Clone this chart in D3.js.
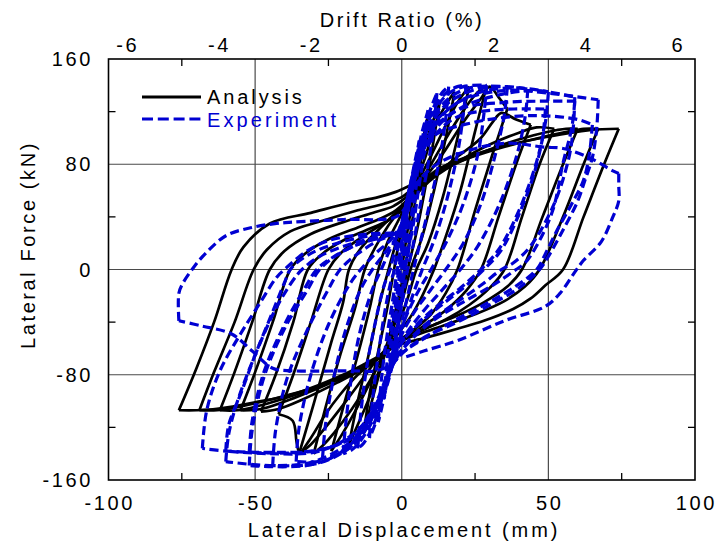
<!DOCTYPE html>
<html>
<head>
<meta charset="utf-8">
<script src="https://cdn.jsdelivr.net/npm/d3@7"></script>
<style>
  html, body { margin: 0; padding: 0; background: #fff; }
  svg text { font-family: "Liberation Sans", Arial, sans-serif; }
</style>
</head>
<body>
<svg id="chart" width="717" height="547"></svg>
<script>
// Axis ticks
const dispTicks = [-100, -50, 0, 50, 100];
const dispMinor = [-75, -25, 25, 75];
const forceTicks = [-160, -80, 0, 80, 160];
const forceMinor = [-120, -40, 40, 120];
const driftTicks = [-6, -4, -2, 0, 2, 4, 6];
const gridDisp = [-50, 0, 50];
const gridForce = [-80, 0, 80];
const mmPerPercent = 15.65;

// Analysis: hysteresis branches [displacement mm, force kN], peak to peak
const analysisBranches = [
  [[0,0],[2,30],[4,58],[6,85],[8,107],[9,118]],
  [[9,118],[7,90],[5,58],[3,28],[1,0],[-2,-30],[-5,-58],[-8,-82],[-11,-107],[-13,-125]],
  [[-13,-125],[-11,-95],[-8,-62],[-5,-30],[-3,-5],[-1,20],[2,45],[5,70],[8,95],[11,115],[13,128]],
  [[13,128],[11,100],[8,62],[5,28],[2,0],[-1,-28],[-4,-52],[-7,-72],[-11,-97],[-15,-118],[-18,-133]],
  [[-18,-133],[-15,-100],[-11,-62],[-8,-30],[-5,-4],[-2,20],[1,42],[4,62],[8,85],[11,108],[15,125],[18,135]],
  [[18,135],[15,100],[11,60],[7,25],[3,0],[0,-25],[-3,-45],[-6,-62],[-10,-82],[-15,-104],[-20,-124],[-24,-138]],
  [[-24,-138],[-20,-105],[-15,-65],[-11,-30],[-8,0],[-5,20],[-1,38],[2,52],[5,65],[9,82],[14,105],[19,127],[23,139]],
  [[23,139],[19,100],[14,55],[9,20],[5,0],[2,-22],[-1,-40],[-4,-55],[-7,-68],[-11,-85],[-17,-106],[-23,-124],[-27,-134],[-30,-140]],
  [[-30,-140],[-26,-105],[-21,-65],[-16,-30],[-12.6,0],[-9,17],[-5,32],[-1,44],[3,56],[6,66],[10,80],[16,103],[22,124],[26,135],[29,140]],
  [[29,140],[25,105],[20,60],[15,25],[11,0],[7,-20],[3,-36],[-1,-48],[-4,-57],[-8,-67],[-13,-82],[-19,-100],[-26,-120],[-31,-133],[-35,-140]],
  [[-35,-140],[-30,-102],[-24,-55],[-20,-25],[-18,0],[-14,16],[-8,30],[-3,41],[1,50],[4,60],[8,70],[14,88],[21,112],[27,130],[30,139],[33,131],[36,122]],
  [[36,122],[31,88],[25,45],[19,0],[15,-18],[10,-34],[4,-46],[-1,-54],[-5,-61],[-9,-69],[-15,-80],[-21,-95],[-26,-110],[-31,-128],[-34.8,-139],[-35.8,-132],[-37.2,-115],[-42,-110]],
  [[-42,-110],[-37,-80],[-31,-40],[-25,0],[-21,12],[-14,24],[-7,34],[-2,41],[2,50],[6,61],[10,70],[18,84],[27,100],[31,112],[34,119],[39,114],[44,110]],
  [[44,110],[39,80],[33,40],[27,0],[22,-16],[15,-31],[8,-42],[2,-51],[-3,-58],[-7,-66],[-12,-74],[-22,-86],[-34,-99],[-42,-106],[-48,-108]],
  [[-48,-108],[-43,-80],[-37,-40],[-32,0],[-27,12],[-20,22],[-12,30],[-5,37],[-1,43],[3,52],[7,62],[11,70],[20,83],[30,95],[40,104],[46,108],[52,107]],
  [[52,107],[47,80],[41,40],[35,0],[30,-14],[23,-27],[15,-38],[7,-46],[1,-53],[-3,-59],[-7,-66],[-12,-73],[-22,-84],[-36,-97],[-48,-106],[-55,-107]],
  [[-55,-107],[-50,-78],[-44,-40],[-38,0],[-33,12],[-25,23],[-15,32],[-7,39],[-2,45],[2,53],[6,62],[10,70],[20,82],[32,93],[45,102],[53,106],[56,107],[60,107]],
  [[60,107],[55,80],[48,40],[41,0],[36,-13],[28,-25],[19,-35],[10,-43],[3,-50],[-2,-56],[-6,-63],[-10,-70],[-18,-80],[-32,-92],[-46,-102],[-56,-107],[-62,-107]],
  [[-62,-107],[-57,-78],[-51,-40],[-45,0],[-40,14],[-31,27],[-20,36],[-10,43],[-3,48],[1,54],[5,62],[9,70],[15,78],[30,90],[45,99],[57,105],[62,107],[67,107]],
  [[67,107],[62,80],[55,40],[47,0],[42,-13],[35,-24],[25,-34],[15,-42],[6,-49],[-1,-55],[-5,-61],[-9,-68],[-15,-77],[-30,-90],[-45,-99],[-57,-105],[-63,-107],[-69,-107]],
  [[-69,-107],[-64,-78],[-57,-40],[-50.5,0],[-46,15],[-38,29],[-27,37],[-15,45],[-6,50],[0,55],[4,62],[8,69],[13,77],[30,91],[50,101],[64,106],[74,107]],
  [[74,107],[69,80],[62,40],[55,0],[49,-12],[44,-22],[38,-30],[28,-39],[19,-45],[8,-52],[-2,-58],[-7,-65],[-12,-71],[-20,-80],[-36,-94],[-50,-101],[-63,-106],[-70,-107],[-76,-107]],
  [[-76,-107],[-70,-75],[-64,-40],[-58,0],[-54,17],[-45,35],[-31,43],[-19,50],[-8,55],[-2,59],[3,64]]
];

// Experiment: measured hysteresis branches [displacement mm, force kN]
const experimentBranches = [
  [[0,0],[1,20],[2,38]],
  [[2,38],[1.5,20],[0.5,0],[-0.5,-15],[-1.5,-30],[-2,-38]],
  [[-2,-38],[-1.5,-20],[-0.5,0],[0.5,20],[1.5,35],[2.5,50],[3.5,62],[4,68]],
  [[4,68],[3.5,45],[2,20],[0.5,0],[-1,-20],[-2,-40],[-3,-58],[-4,-70]],
  [[-4,-70],[-3.5,-50],[-2,-25],[-0.5,0],[0.5,22],[1.5,45],[3,65],[4.5,82],[6,98]],
  [[6,98],[5,65],[3.5,35],[2,10],[1,0],[-0.5,-25],[-2,-48],[-3.5,-68],[-5,-85],[-6,-98]],
  [[-6,-98],[-5,-70],[-3.5,-40],[-2,-15],[-1,0],[0.5,25],[2,48],[3.5,68],[5,85],[7,105],[9,121]],
  [[9,121],[8,95],[6,65],[4,35],[2,12],[1,0],[0,-22],[-1.5,-45],[-3,-65],[-5,-85],[-6.5,-102],[-8,-116]],
  [[-8,-116],[-7,-85],[-5,-50],[-3,-22],[-1.5,0],[0,22],[1.5,42],[3,60],[5,80],[7,100],[9,117],[12,134]],
  [[12,134],[11,110],[9,80],[6,45],[4,20],[2,0],[0.5,-20],[-1,-40],[-3,-62],[-5,-82],[-7,-100],[-9,-117],[-11,-128]],
  [[-11,-128],[-10,-100],[-8,-65],[-6,-35],[-4,-12],[-2.5,0],[-1,20],[1,40],[3,60],[5,80],[8,105],[11,124],[14,135],[16,139]],
  [[16,139],[15,115],[13,85],[9,45],[6,18],[4,0],[2,-20],[0,-40],[-2,-60],[-4,-80],[-7,-102],[-10,-120],[-13,-132],[-15,-136]],
  [[-15,-136],[-14,-110],[-12,-75],[-9,-40],[-6,-12],[-4,0],[-2,18],[0,35],[2,55],[4,75],[7,100],[11,122],[15,134],[19,139],[22,140]],
  [[22,140],[21,118],[19,88],[15,50],[11,22],[7,0],[4,-18],[1,-38],[-1,-55],[-3,-70],[-6,-92],[-10,-115],[-14,-130],[-17,-137],[-20,-140]],
  [[-20,-140],[-19,-115],[-17,-80],[-14,-45],[-10,-15],[-7,0],[-4,15],[-1,28],[1,45],[3,65],[6,90],[10,115],[15,132],[21,139],[29,140]],
  [[29,140],[28,118],[26,88],[21,50],[15,20],[10,0],[6,-15],[2,-33],[-1,-50],[-3,-65],[-6,-88],[-10,-112],[-15,-130],[-21,-140],[-27,-143]],
  [[-27,-143],[-26,-118],[-23,-80],[-19,-45],[-14,-15],[-10,0],[-6,12],[-2,24],[0,35],[2,55],[5,82],[9,108],[15,128],[23,138],[36,139]],
  [[36,139],[35,118],[32,88],[27,50],[21,20],[15,0],[10,-15],[5,-30],[1,-45],[-2,-60],[-5,-82],[-10,-110],[-17,-132],[-26,-145],[-36,-146]],
  [[-36,-146],[-35,-120],[-31,-80],[-25,-42],[-18,-12],[-14,0],[-9,12],[-4,22],[-1,30],[1,45],[4,72],[8,100],[14,123],[24,136],[36,139],[43,137]],
  [[43,137],[42,115],[39,85],[33,48],[26,18],[20,0],[14,-15],[8,-30],[3,-44],[-1,-58],[-4,-78],[-9,-108],[-16,-132],[-28,-147],[-44,-149]],
  [[-44,-149],[-43,-122],[-39,-82],[-32,-45],[-25,-15],[-21,0],[-15,12],[-8,22],[-2,28],[1,40],[4,68],[8,95],[15,120],[27,135],[40,138],[50,135]],
  [[50,135],[49,112],[46,82],[40,45],[33,15],[27,0],[20,-14],[12,-28],[5,-42],[0,-56],[-4,-75],[-9,-105],[-17,-132],[-30,-148],[-52,-149]],
  [[-52,-149],[-51,-122],[-47,-82],[-40,-45],[-32,-15],[-28,0],[-22,11],[-14,20],[-5,26],[0,30],[2,45],[5,72],[10,98],[18,115],[30,121],[49,122]],
  [[49,122],[48,100],[45,72],[40,42],[34,15],[28,0],[21,-14],[13,-28],[6,-41],[0,-55],[-4,-74],[-9,-102],[-17,-127],[-30,-138],[-52,-139]],
  [[-52,-139],[-51,-115],[-47,-78],[-40,-42],[-33,-14],[-29,0],[-23,10],[-15,19],[-6,25],[0,29],[2,45],[5,75],[10,102],[18,120],[30,131],[45,136],[59,131]],
  [[59,131],[58.5,108],[57,85],[52,50],[44,18],[38,5],[34,0],[27,-12],[18,-26],[9,-40],[2,-55],[-3,-72],[-8,-100],[-16,-128],[-30,-146],[-45,-149],[-60,-146]],
  [[-60,-146],[-59,-125],[-56,-100],[-50,-65],[-43,-30],[-37,-8],[-34,0],[-28,10],[-18,19],[-8,25],[0,29],[2,45],[5,78],[10,105],[20,122],[35,127],[50,128],[59,128]],
  [[59,128],[58,108],[55,81],[51.5,45],[46,18],[42,5],[39,0],[31,-12],[20,-26],[10,-40],[3,-54],[-2,-68],[-7,-95],[-15,-122],[-28,-138],[-45,-140],[-60,-138]],
  [[-60,-138],[-59,-118],[-55,-95],[-50,-65],[-44,-32],[-40,-10],[-38,0],[-32,11],[-22,20],[-10,26],[0,30],[2,48],[5,80],[10,108],[20,128],[35,136],[50,134],[67,129]],
  [[67,129],[66.5,108],[65,85],[62.5,68],[60,52],[55,30],[50,10],[47,0],[40,-14],[30,-27],[19,-40],[9,-50],[2,-60],[-3,-72],[-8,-100],[-15,-125],[-28,-137],[-45,-139],[-60,-138],[-68,-136]],
  [[-68,-136],[-66.5,-107],[-62,-77],[-55,-49],[-48.5,-26],[-42.7,-6],[-40,0],[-33,13],[-25,22],[-12,27],[0,30],[2,45],[5,75],[10,100],[25,112],[45,117],[60,114],[65,110]],
  [[65,110],[64,88],[62,68],[58,50],[53,30],[49,12],[46,0],[38,-14],[28,-27],[17,-40],[8,-52],[1,-62],[-4,-73],[-9,-77],[-16.7,-77],[-37,-77],[-44,-75],[-51,-62],[-58,-49],[-68,-43],[-76,-39]],
  [[-76,-39],[-76,-18],[-74.7,-10.7],[-71,1.5],[-66.6,13],[-59.7,26],[-51,32],[-42.7,35],[-37,36],[-20,38],[-2,40],[2,50],[4,60],[6,68],[12,80],[22,90],[36,96],[48.5,93],[55,92],[64,85],[72,75],[74,73]],
  [[74,73],[74,64],[74,52],[72,40],[68,21],[62,7],[59,-2],[54,-18],[49,-28],[35,-39],[19,-54],[7.5,-62],[0.7,-67]]
];

const legendItems = ["Analysis", "Experiment"];

const BLUE = "#0000d2";
const FONT = 20;

const svg = d3.select("#chart");
const x = d3.scaleLinear().domain([-100, 100]).range([108.5, 695]);
const y = d3.scaleLinear().domain([-160, 160]).range([480, 59]);
const xDrift = d3.scaleLinear().domain([-100 / mmPerPercent, 100 / mmPerPercent]).range(x.range());

const [x0, x1] = x.range();
const [yb, yt] = y.range();

svg.append("defs").append("clipPath").attr("id", "plot-clip")
  .append("rect").attr("x", x0).attr("y", yt).attr("width", x1 - x0).attr("height", yb - yt);

// Grid lines
const grid = svg.append("g").attr("stroke", "#4a4a4a").attr("stroke-width", 1.2);
grid.selectAll("line.gx").data(gridDisp).join("line")
  .attr("x1", d => x(d)).attr("x2", d => x(d)).attr("y1", yt).attr("y2", yb);
grid.selectAll("line.gy").data(gridForce).join("line")
  .attr("y1", d => y(d)).attr("y2", d => y(d)).attr("x1", x0).attr("x2", x1);

// Inward minor ticks on all four sides
const tk = 7;
const ticks = svg.append("g").attr("stroke", "#000").attr("stroke-width", 1.3);
dispMinor.forEach(v => {
  ticks.append("line").attr("x1", x(v)).attr("x2", x(v)).attr("y1", yb).attr("y2", yb - tk);
  ticks.append("line").attr("x1", x(v)).attr("x2", x(v)).attr("y1", yt).attr("y2", yt + tk);
});
forceMinor.forEach(v => {
  ticks.append("line").attr("y1", y(v)).attr("y2", y(v)).attr("x1", x0).attr("x2", x0 + tk);
  ticks.append("line").attr("y1", y(v)).attr("y2", y(v)).attr("x1", x1).attr("x2", x1 - tk);
});

// Curves
const line = d3.line()
  .x(d => x(d[0])).y(d => y(d[1]))
  .curve(d3.curveCatmullRom.alpha(0.5));

const plot = svg.append("g").attr("clip-path", "url(#plot-clip)");
plot.append("g").selectAll("path").data(analysisBranches).join("path")
  .attr("d", line)
  .attr("fill", "none").attr("stroke", "#000").attr("stroke-width", 2.7)
  .attr("stroke-linejoin", "round");
plot.append("g").selectAll("path").data(experimentBranches).join("path")
  .attr("d", line)
  .attr("fill", "none").attr("stroke", BLUE).attr("stroke-width", 3.2)
  .attr("stroke-dasharray", "9,4.5").attr("stroke-linejoin", "round");

// Plot frame
svg.append("rect").attr("x", x0).attr("y", yt).attr("width", x1 - x0).attr("height", yb - yt)
  .attr("fill", "none").attr("stroke", "#000").attr("stroke-width", 1.6);

// Tick labels
const labelStyle = sel => sel.attr("font-size", FONT).attr("letter-spacing", 2.6).attr("fill", "#000");
svg.append("g").selectAll("text").data(dispTicks).join("text")
  .call(labelStyle)
  .attr("x", d => x(d) + 1.3).attr("y", 510).attr("text-anchor", "middle")
  .text(d => d);
svg.append("g").selectAll("text").data(forceTicks).join("text")
  .call(labelStyle)
  .attr("x", 93).attr("y", d => y(d) + 7).attr("text-anchor", "end")
  .text(d => d);
svg.append("g").selectAll("text").data(driftTicks).join("text")
  .call(labelStyle)
  .attr("x", d => xDrift(d) + 1.3).attr("y", 52).attr("text-anchor", "middle")
  .text(d => d);

// Axis titles
svg.append("text").call(labelStyle).attr("letter-spacing", 2.9)
  .attr("x", 404).attr("y", 537).attr("text-anchor", "middle")
  .text("Lateral Displacement (mm)");
svg.append("text").call(labelStyle).attr("letter-spacing", 2.6)
  .attr("x", 402).attr("y", 27).attr("text-anchor", "middle")
  .text("Drift Ratio (%)");
svg.append("text").call(labelStyle).attr("letter-spacing", 2.6)
  .attr("transform", "translate(35,245) rotate(-90)").attr("text-anchor", "middle")
  .text("Lateral Force (kN)");

// Legend
const legend = svg.append("g");
legend.append("line").attr("x1", 142).attr("x2", 201).attr("y1", 97).attr("y2", 97)
  .attr("stroke", "#000").attr("stroke-width", 3);
legend.append("line").attr("x1", 142).attr("x2", 201).attr("y1", 119).attr("y2", 119)
  .attr("stroke", BLUE).attr("stroke-width", 3.2).attr("stroke-dasharray", "11,4.8");
legend.append("text").attr("font-size", FONT).attr("letter-spacing", 2.9)
  .attr("x", 207).attr("y", 104).attr("fill", "#000").text(legendItems[0]);
legend.append("text").attr("font-size", FONT).attr("letter-spacing", 3.1)
  .attr("x", 207).attr("y", 127).attr("fill", BLUE).text(legendItems[1]);
</script>
</body>
</html>
